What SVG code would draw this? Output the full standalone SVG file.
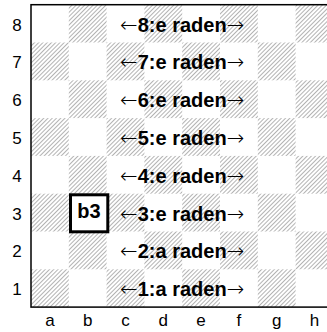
<svg xmlns="http://www.w3.org/2000/svg" width="327" height="332" viewBox="0 0 327 332">
<style>
.lbl{font-family:"Liberation Sans",Arial,sans-serif;font-size:17px;fill:#000;text-anchor:middle}
.row{font-family:"Liberation Sans",Arial,sans-serif;font-size:20px;font-weight:bold;fill:#000;text-anchor:middle}
.arr{font-family:"DejaVu Sans",sans-serif;font-weight:200;font-size:21px}
.dark{fill:url(#hatch)}
</style>
<defs>
<pattern id="hatch" patternUnits="userSpaceOnUse" width="3" height="3" patternTransform="rotate(45)">
<rect width="3" height="3" fill="#fff"/>
<line x1="0" y1="0" x2="0" y2="3" stroke="#808080" stroke-width="1.2"/>
</pattern>
</defs>
<rect width="327" height="332" fill="#fff"/>
<g id="board">
<rect class="dark" x="68.8" y="4.7" width="37.8" height="37.8"/>
<rect class="dark" x="144.4" y="4.7" width="37.8" height="37.8"/>
<rect class="dark" x="220" y="4.7" width="37.8" height="37.8"/>
<rect class="dark" x="295.6" y="4.7" width="37.8" height="37.8"/>
<rect class="dark" x="31" y="42.5" width="37.8" height="37.8"/>
<rect class="dark" x="106.6" y="42.5" width="37.8" height="37.8"/>
<rect class="dark" x="182.2" y="42.5" width="37.8" height="37.8"/>
<rect class="dark" x="257.8" y="42.5" width="37.8" height="37.8"/>
<rect class="dark" x="68.8" y="80.3" width="37.8" height="37.8"/>
<rect class="dark" x="144.4" y="80.3" width="37.8" height="37.8"/>
<rect class="dark" x="220" y="80.3" width="37.8" height="37.8"/>
<rect class="dark" x="295.6" y="80.3" width="37.8" height="37.8"/>
<rect class="dark" x="31" y="118.1" width="37.8" height="37.8"/>
<rect class="dark" x="106.6" y="118.1" width="37.8" height="37.8"/>
<rect class="dark" x="182.2" y="118.1" width="37.8" height="37.8"/>
<rect class="dark" x="257.8" y="118.1" width="37.8" height="37.8"/>
<rect class="dark" x="68.8" y="155.9" width="37.8" height="37.8"/>
<rect class="dark" x="144.4" y="155.9" width="37.8" height="37.8"/>
<rect class="dark" x="220" y="155.9" width="37.8" height="37.8"/>
<rect class="dark" x="295.6" y="155.9" width="37.8" height="37.8"/>
<rect class="dark" x="31" y="193.7" width="37.8" height="37.8"/>
<rect class="dark" x="106.6" y="193.7" width="37.8" height="37.8"/>
<rect class="dark" x="182.2" y="193.7" width="37.8" height="37.8"/>
<rect class="dark" x="257.8" y="193.7" width="37.8" height="37.8"/>
<rect class="dark" x="68.8" y="231.5" width="37.8" height="37.8"/>
<rect class="dark" x="144.4" y="231.5" width="37.8" height="37.8"/>
<rect class="dark" x="220" y="231.5" width="37.8" height="37.8"/>
<rect class="dark" x="295.6" y="231.5" width="37.8" height="37.8"/>
<rect class="dark" x="31" y="269.3" width="37.8" height="37.8"/>
<rect class="dark" x="106.6" y="269.3" width="37.8" height="37.8"/>
<rect class="dark" x="182.2" y="269.3" width="37.8" height="37.8"/>
<rect class="dark" x="257.8" y="269.3" width="37.8" height="37.8"/>
<rect x="31" y="4.7" width="302.4" height="302.4" fill="none" stroke="#000" stroke-width="1.5"/>
</g>
<g id="ranks">
<text class="lbl" x="17" y="30.5">8</text>
<text class="lbl" x="17" y="68.3">7</text>
<text class="lbl" x="17" y="106.1">6</text>
<text class="lbl" x="17" y="143.9">5</text>
<text class="lbl" x="17" y="181.7">4</text>
<text class="lbl" x="17" y="219.5">3</text>
<text class="lbl" x="17" y="257.3">2</text>
<text class="lbl" x="17" y="295.1">1</text>
</g>
<g id="files">
<text class="lbl" x="49.9" y="326">a</text>
<text class="lbl" x="87.7" y="326">b</text>
<text class="lbl" x="125.5" y="326">c</text>
<text class="lbl" x="163.3" y="326">d</text>
<text class="lbl" x="201.1" y="326">e</text>
<text class="lbl" x="238.9" y="326">f</text>
<text class="lbl" x="276.7" y="326">g</text>
<text class="lbl" x="314.5" y="326">h</text>
</g>
<g id="rows">
<text class="row" x="182.2" y="31.6"><tspan class="arr">←</tspan>8:e raden<tspan class="arr">→</tspan></text>
<text class="row" x="182.2" y="69.4"><tspan class="arr">←</tspan>7:e raden<tspan class="arr">→</tspan></text>
<text class="row" x="182.2" y="107.2"><tspan class="arr">←</tspan>6:e raden<tspan class="arr">→</tspan></text>
<text class="row" x="182.2" y="145"><tspan class="arr">←</tspan>5:e raden<tspan class="arr">→</tspan></text>
<text class="row" x="182.2" y="182.8"><tspan class="arr">←</tspan>4:e raden<tspan class="arr">→</tspan></text>
<text class="row" x="182.2" y="220.6"><tspan class="arr">←</tspan>3:e raden<tspan class="arr">→</tspan></text>
<text class="row" x="182.2" y="258.4"><tspan class="arr">←</tspan>2:a raden<tspan class="arr">→</tspan></text>
<text class="row" x="182.2" y="296.2"><tspan class="arr">←</tspan>1:a raden<tspan class="arr">→</tspan></text>
</g>
<g id="b3">
<rect x="70.5" y="194.8" width="37.3" height="37" fill="#fff" stroke="#000" stroke-width="3"/>
<text class="row" x="89" y="218">b3</text>
</g>
</svg>
